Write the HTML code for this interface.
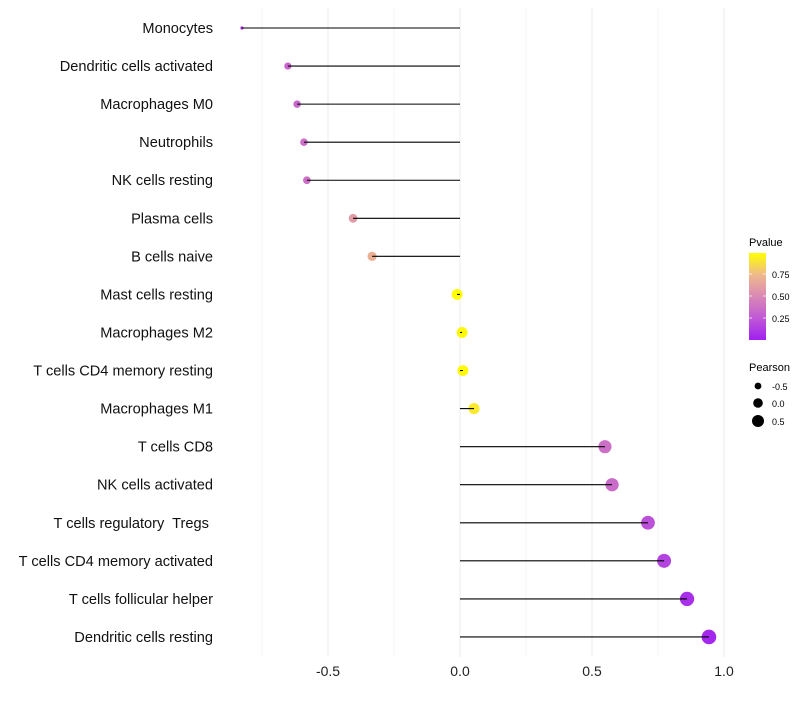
<!DOCTYPE html>
<html><head><meta charset="utf-8"><style>
body{margin:0;background:#fff;font-family:"Liberation Sans",sans-serif}
text{white-space:pre}
</style></head><body>
<svg id="c" width="800" height="700" xmlns="http://www.w3.org/2000/svg">
<defs><linearGradient id="pg" x1="0" y1="1" x2="0" y2="0">
<stop offset="0" stop-color="#A020F0"/><stop offset="0.25" stop-color="#C058D6"/><stop offset="0.5" stop-color="#DA88B6"/><stop offset="0.75" stop-color="#EFB98C"/><stop offset="1" stop-color="#FFFF00"/></linearGradient></defs>
<g id="grid"></g><g id="marks"></g><g id="labels"></g>
<g font-size="10" fill="#000">
<text x="749" y="246" font-size="11">Pvalue</text>
<rect x="749" y="253" width="17" height="87" fill="url(#pg)"/>
<g stroke="#fff" stroke-opacity="0.7"><line x1="749" x2="752" y1="274" y2="274"/><line x1="763" x2="766" y1="274" y2="274"/><line x1="749" x2="752" y1="296" y2="296"/><line x1="763" x2="766" y1="296" y2="296"/><line x1="749" x2="752" y1="318" y2="318"/><line x1="763" x2="766" y1="318" y2="318"/></g>
<text x="772" y="278" font-size="9">0.75</text><text x="772" y="300" font-size="9">0.50</text><text x="772" y="322" font-size="9">0.25</text>
<text x="749" y="371" font-size="11">Pearson</text>
<circle cx="758" cy="386" r="3.4"/><circle cx="758" cy="403" r="4.8"/><circle cx="758" cy="421" r="6"/>
<text x="772" y="390" font-size="9">-0.5</text><text x="772" y="407" font-size="9">0.0</text><text x="772" y="425" font-size="9">0.5</text>
</g>
</svg>
<script>
const cells=["Monocytes","Dendritic cells activated","Macrophages M0","Neutrophils","NK cells resting","Plasma cells","B cells naive","Mast cells resting","Macrophages M2","T cells CD4 memory resting","Macrophages M1","T cells CD8","NK cells activated","T cells regulatory  Tregs ","T cells CD4 memory activated","T cells follicular helper","Dendritic cells resting"];
const pearson=[-0.826,-0.652,-0.617,-0.591,-0.580,-0.405,-0.333,-0.011,0.008,0.011,0.053,0.549,0.576,0.712,0.773,0.860,0.943];
const pvalue=[0.08,0.32,0.33,0.37,0.37,0.6,0.7,1.0,0.98,0.98,0.92,0.37,0.35,0.22,0.16,0.07,0.03];
const xTicks=[-0.5,0,0.5,1.0];
const xTickLabels=["-0.5","0.0","0.5","1.0"];
const NS="http://www.w3.org/2000/svg";
const x=v=>460+v*264, y=i=>28+i*38.06;
const r=v=>v<-0.75?1.6:Math.sqrt(Math.max(2.5,29.5+25.2*v));
function mk(t,a,p){const e=document.createElementNS(NS,t);for(const k in a)e.setAttribute(k,a[k]);p.appendChild(e);return e;}
function lerp(a,b,t){return a.map((v,i)=>Math.round(v+(b[i]-v)*t));}
const stops=[[160,32,240],[192,88,214],[218,136,182],[239,185,140],[255,255,0]];
function col(p){p=Math.min(1,Math.max(0,p))*4;const i=Math.min(3,Math.floor(p));const c=lerp(stops[i],stops[i+1],p-i);return `rgb(${c})`;}
const g=document.getElementById('grid'),m=document.getElementById('marks'),l=document.getElementById('labels');
for(let v=-0.75;v<=1.01;v+=0.25){const ln=mk('line',{x1:x(v),x2:x(v),y1:8,y2:657,stroke:'#ebebeb','stroke-width':Math.abs(v*2-Math.round(v*2))<1e-6?1:0.6},g);

}
xTicks.forEach((v,i)=>{const t=mk('text',{x:x(v),y:676,'text-anchor':'middle','font-size':14,fill:'#222'},l);t.textContent=xTickLabels[i];

});
cells.forEach((c,i)=>{
const t=mk('text',{x:213,y:y(i)+5,'text-anchor':'end','font-size':14.6,fill:'#111'},l);t.textContent=c;


const cc=mk('circle',{cx:x(pearson[i]),cy:y(i),r:r(pearson[i]),fill:col(pvalue[i])},m);


const s=mk('line',{x1:x(pearson[i]),x2:x(0),y1:y(i),y2:y(i),stroke:'#000','stroke-width':1.1},m);


});
</script>
</body></html>
